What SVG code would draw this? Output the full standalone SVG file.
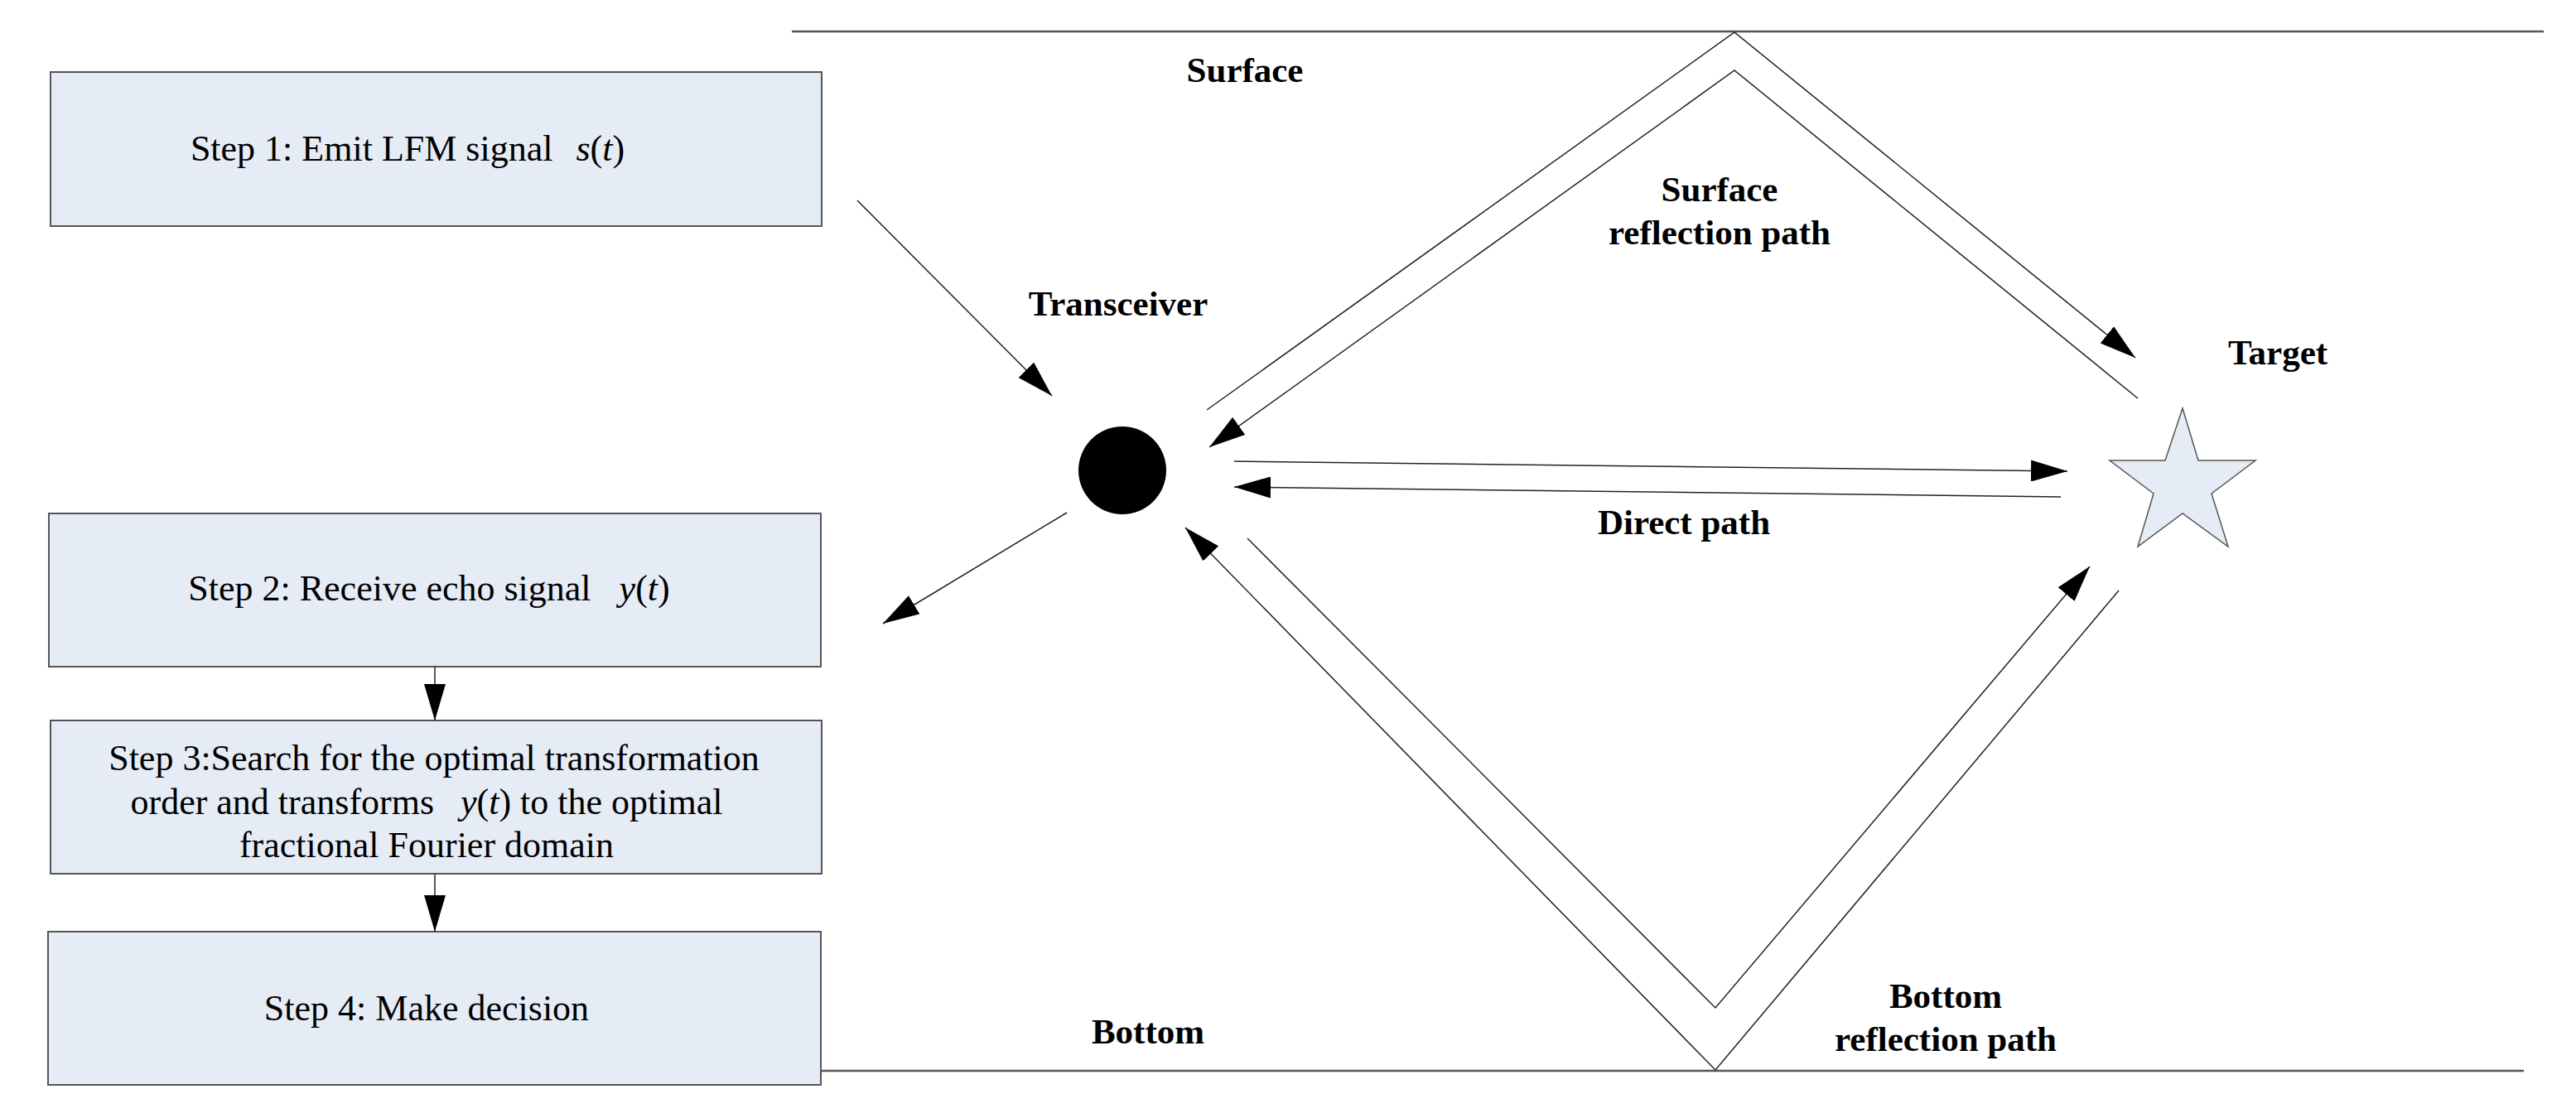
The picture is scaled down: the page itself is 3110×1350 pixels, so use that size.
<svg xmlns="http://www.w3.org/2000/svg" width="3110" height="1350" viewBox="0 0 3110 1350">
<style>
.box{fill:#e6ecf6;stroke:#555;stroke-width:2}
.t{font-family:"Liberation Serif",serif;font-size:44px;fill:#000;text-anchor:middle}
.b{font-family:"Liberation Serif",serif;font-size:43px;font-weight:bold;fill:#000;text-anchor:middle}
.i{font-style:italic}
.ar{stroke:#222;stroke-width:1.5;fill:none;marker-end:url(#ah)}
.bd{stroke:#555;stroke-width:2.5}
</style>
<defs>
<marker id="ah" markerUnits="userSpaceOnUse" markerWidth="46" markerHeight="26" refX="44" refY="13" orient="auto"><path d="M0,0 L44,13 L0,26 Z" fill="#000"/></marker>
</defs>
<rect width="3110" height="1350" fill="#fff"/>
<g id="surface"><line class="bd" x1="956" y1="38" x2="3071" y2="38" stroke-width="1.5"/><text class="b" x="1503" y="99">Surface</text></g>
<g id="bottom"><line class="bd" x1="992" y1="1293" x2="3047" y2="1293"/><text class="b" x="1386" y="1260">Bottom</text></g>
<g id="step1"><rect class="box" x="61" y="87" width="931" height="186"/><text class="t" x="492" y="194">Step 1: Emit LFM signal<tspan class="i" dx="28">s</tspan>(<tspan class="i">t</tspan>)</text></g>
<g id="step2"><rect class="box" x="59" y="620" width="932" height="185"/><text class="t" x="518" y="725">Step 2: Receive echo signal<tspan class="i" dx="34">y</tspan>(<tspan class="i">t</tspan>)</text></g>
<g id="step3"><rect class="box" x="61" y="870" width="931" height="185"/><text class="t" x="524" y="930">Step 3:Search for the optimal transformation</text><text class="t" x="515" y="983">order and transforms<tspan class="i" dx="32">y</tspan>(<tspan class="i">t</tspan>) to the optimal</text><text class="t" x="515" y="1035">fractional Fourier domain</text></g>
<g id="step4"><rect class="box" x="58" y="1125" width="933" height="185"/><text class="t" x="515" y="1232">Step 4: Make decision</text></g>
<g id="transceiver"><circle cx="1355" cy="568" r="53" fill="#000"/><text class="b" x="1350" y="381">Transceiver</text></g>
<g id="target"><polygon points="2635,493 2654,556 2723,556 2670,596 2690,660 2635,620 2581,660 2600,596 2547,556 2614,556" fill="#e6ecf6" stroke="#555" stroke-width="1.5"/><text class="b" x="2750" y="440">Target</text></g>
<g id="labels">
<text class="b" x="2076" y="243">Surface</text><text class="b" x="2076" y="295">reflection path</text>
<text class="b" x="2033" y="645">Direct path</text>
<text class="b" x="2349" y="1217">Bottom</text><text class="b" x="2349" y="1269">reflection path</text>
</g>
<g id="connectors">
<line class="ar" x1="1035" y1="242" x2="1270" y2="478"/>
<line class="ar" x1="1288" y1="619" x2="1066" y2="753"/>
<line class="ar" x1="525" y1="805" x2="525" y2="870"/>
<line class="ar" x1="525" y1="1055" x2="525" y2="1125"/>
<polyline class="ar" points="1457,495 2094,39 2578,432"/>
<polyline class="ar" points="2581,481 2094,85 1460,540"/>
<line class="ar" x1="1490" y1="557" x2="2496" y2="569"/>
<line class="ar" x1="2488" y1="600" x2="1490" y2="588"/>
<polyline class="ar" points="2558,713 2071,1292 1431,637"/>
<polyline class="ar" points="1506,650 2071,1217 2523,684"/>
</g>
</svg>
